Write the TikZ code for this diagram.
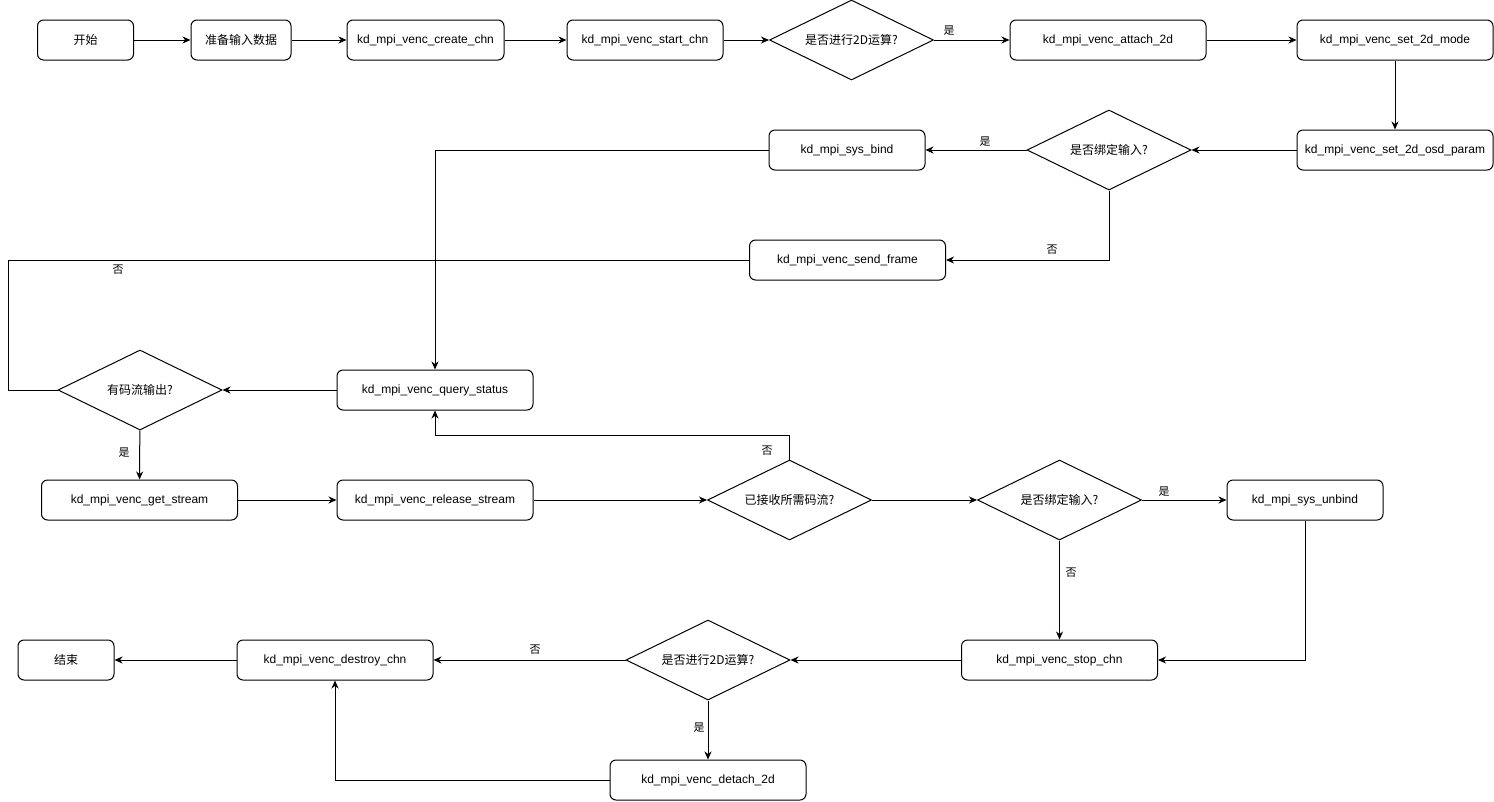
\documentclass[tikz,border=0pt]{standalone}
\usepackage{fontspec}
\setmainfont{Liberation Sans}
\newfontfamily\cjk{Noto Sans CJK SC}
\usetikzlibrary{shapes.geometric,arrows.meta}
\tikzset{
  box/.style={draw, rounded corners=6pt, line width=1pt, inner sep=0pt, minimum height=40pt, font=\fontsize{12}{14}\selectfont},
  dec/.style={draw, diamond, aspect=2.05, line width=1pt, inner sep=0pt, minimum width=164pt, minimum height=80pt, font=\cjk\fontsize{12}{14}\selectfont},
  arr/.style={line width=1pt, -{Stealth[length=8pt,width=7pt,inset=2.5pt]}},
  pl/.style={line width=1pt},
  lab/.style={font=\cjk\fontsize{11}{13}\selectfont, inner sep=1pt}
}
\begin{document}
\begin{tikzpicture}[x=1pt,y=-1pt]
\fill[white] (0,0) rectangle (1494,801);
\useasboundingbox (0,0) rectangle (1494,801);
% row 1
\node[box, minimum width=96pt, font=\cjk\fontsize{12}{14}\selectfont] (start) at (85.5,40) {开始};
\node[box, minimum width=100pt, font=\cjk\fontsize{12}{14}\selectfont] (prep) at (241,40) {准备输入数据};
\node[box, minimum width=157pt] (create) at (425.5,40) {kd\_mpi\_venc\_create\_chn};
\node[box, minimum width=156pt] (startchn) at (645,40) {kd\_mpi\_venc\_start\_chn};
\node[dec, shape aspect=2.05] (d1) at (851.5,40) {是否进行2D运算?};
\node[box, minimum width=196pt] (attach) at (1108,40) {kd\_mpi\_venc\_attach\_2d};
\node[box, minimum width=196pt] (mode) at (1395,40) {kd\_mpi\_venc\_set\_2d\_mode};
% row 2
\node[box, minimum width=196pt] (osd) at (1395,150) {kd\_mpi\_venc\_set\_2d\_osd\_param};
\node[dec] (d2) at (1109,150) {是否绑定输入?};
\node[box, minimum width=156pt] (bind) at (847,150) {kd\_mpi\_sys\_bind};
% row 3
\node[box, minimum width=196pt] (send) at (847.5,260) {kd\_mpi\_venc\_send\_frame};
% row 4
\node[box, minimum width=196pt] (query) at (435,390) {kd\_mpi\_venc\_query\_status};
\node[dec] (d3) at (140,390) {有码流输出?};
% row 5
\node[box, minimum width=196pt] (get) at (139.5,500) {kd\_mpi\_venc\_get\_stream};
\node[box, minimum width=196pt] (release) at (435,500) {kd\_mpi\_venc\_release\_stream};
\node[dec] (d4) at (789.5,500) {已接收所需码流?};
\node[dec] (d5) at (1059.5,500) {是否绑定输入?};
\node[box, minimum width=156pt] (unbind) at (1305,500) {kd\_mpi\_sys\_unbind};
% row 6
\node[box, minimum width=196pt] (stop) at (1059.5,660) {kd\_mpi\_venc\_stop\_chn};
\node[dec] (d6) at (708,660) {是否进行2D运算?};
\node[box, minimum width=196pt] (destroy) at (335,660) {kd\_mpi\_venc\_destroy\_chn};
\node[box, minimum width=96pt, font=\cjk\fontsize{12}{14}\selectfont] (end) at (66,660) {结束};
% row 7
\node[box, minimum width=196pt] (detach) at (708,780) {kd\_mpi\_venc\_detach\_2d};
% helper coordinates
\coordinate (lf) at (8,260);
\coordinate (lp) at (435,435);
% edges
\draw[arr] (start) -- (prep);
\draw[arr] (prep) -- (create);
\draw[arr] (create) -- (startchn);
\draw[arr] (startchn) -- (d1);
\draw[arr] (d1) -- (attach);
\node[lab] (l1) at (949,31) {是};
\draw[arr] (attach) -- (mode);
\draw[arr] (mode) -- (osd);
\draw[arr] (osd) -- (d2);
\draw[arr] (d2) -- (bind);
\node[lab] (l2) at (985,142) {是};
\draw[arr] (bind.west) -| (query.north);
\draw[arr] (d2.south) |- (send.east);
\node[lab] (l3) at (1052,250) {否};
\draw[pl] (d3.west) -| (lf) -- (send.west);
\node[lab] (l4) at (118,270) {否};
\draw[arr] (query) -- (d3);
\draw[arr] (d3) -- (get);
\node[lab] (l5) at (124,453) {是};
\draw[arr] (get) -- (release);
\draw[arr] (release) -- (d4);
\draw[arr] (d4.north) |- (lp) -- (query.south);
\node[lab] (l6) at (767,451) {否};
\draw[arr] (d4) -- (d5);
\draw[arr] (d5) -- (unbind);
\node[lab] (l7) at (1164,492) {是};
\draw[arr] (d5) -- (stop);
\node[lab] (l8) at (1071,573) {否};
\draw[arr] (unbind.south) |- (stop.east);
\draw[arr] (stop) -- (d6);
\draw[arr] (d6) -- (destroy);
\node[lab] (l9) at (535,650) {否};
\draw[arr] (d6) -- (detach);
\node[lab] (l10) at (699,728) {是};
\draw[arr] (detach.west) -| (destroy.south);
\draw[arr] (destroy) -- (end);
\end{tikzpicture}
\end{document}
